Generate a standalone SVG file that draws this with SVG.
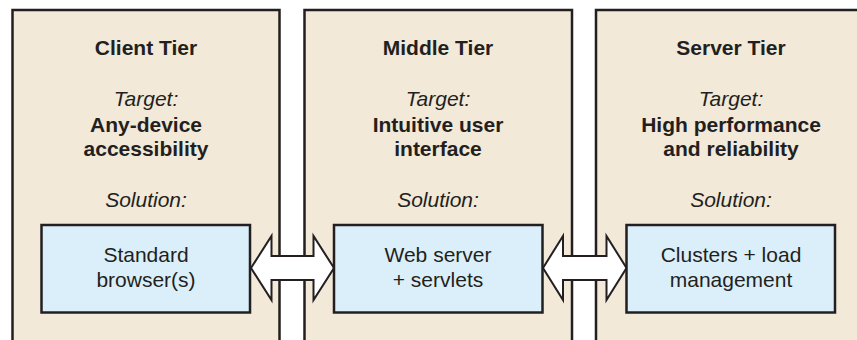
<svg xmlns="http://www.w3.org/2000/svg" width="857" height="340" viewBox="0 0 857 340">
<style>
.panel{fill:#f2e9d8;stroke:#231f20;stroke-width:2.5}
.box{fill:#dbeffa;stroke:#231f20;stroke-width:2.5}
.arrow{fill:#ffffff;stroke:#231f20;stroke-width:2;stroke-linejoin:miter}
text{font-family:"Liberation Sans",Arial,sans-serif;font-size:21px;fill:#231f20;text-anchor:middle}
.title{font-weight:bold}
.it{font-style:italic}
</style>
<rect width="857" height="340" fill="#ffffff"/>
<g id="client-tier">
<rect class="panel" x="12.5" y="10" width="267" height="345"/>
<text class="title" x="146" y="55">Client Tier</text>
<text class="it" x="146" y="106">Target:</text>
<text class="title" x="146" y="131.5">Any-device</text>
<text class="title" x="146" y="156">accessibility</text>
<text class="it" x="146" y="206.5">Solution:</text>
</g>
<g id="middle-tier">
<rect class="panel" x="304.5" y="10" width="267.5" height="345"/>
<text class="title" x="438" y="55">Middle Tier</text>
<text class="it" x="438" y="106">Target:</text>
<text class="title" x="438" y="131.5">Intuitive user</text>
<text class="title" x="438" y="156">interface</text>
<text class="it" x="438" y="206.5">Solution:</text>
</g>
<g id="server-tier">
<rect class="panel" x="596" y="10" width="268" height="345"/>
<text class="title" x="731" y="55">Server Tier</text>
<text class="it" x="731" y="106">Target:</text>
<text class="title" x="731" y="131.5">High performance</text>
<text class="title" x="731" y="156">and reliability</text>
<text class="it" x="731" y="206.5">Solution:</text>
</g>
<g id="connectors">
<path class="arrow" d="M251,268 L271.5,236 L271.5,256 L313.5,256 L313.5,236 L334,268 L313.5,300 L313.5,280 L271.5,280 L271.5,300 Z"/>
<path class="arrow" d="M543,268 L563,236 L563,256 L606.5,256 L606.5,236 L626.5,268 L606.5,300 L606.5,280 L563,280 L563,300 Z"/>
</g>
<g id="standard-browsers">
<rect class="box" x="41.5" y="225" width="208.5" height="87.5"/>
<text x="146" y="261.5">Standard</text>
<text x="146" y="286.5">browser(s)</text>
</g>
<g id="web-server">
<rect class="box" x="334" y="225" width="208.5" height="87.5"/>
<text x="438" y="261.5">Web server</text>
<text x="438" y="286.5">+ servlets</text>
</g>
<g id="clusters">
<rect class="box" x="626.5" y="225" width="208.5" height="87.5"/>
<text x="731" y="261.5">Clusters + load</text>
<text x="731" y="286.5">management</text>
</g>
</svg>
